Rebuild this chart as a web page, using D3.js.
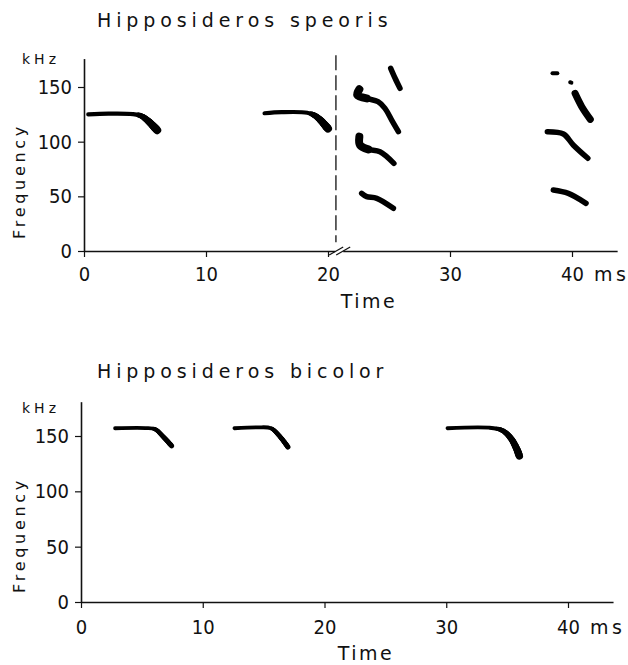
<!DOCTYPE html>
<html>
<head>
<meta charset="utf-8">
<script src="https://cdn.jsdelivr.net/npm/d3@7"></script>
<style>
  body { margin: 0; background: #fff; }
  svg { display: block; }
  text { font-family: "DejaVu Sans", sans-serif; fill: #111; }
  .tick text { font-family: "Liberation Sans Narrow", "DejaVu Sans Condensed", "DejaVu Sans", sans-serif; font-stretch: condensed; }
</style>
</head>
<body>
<script>
var timeTicks = [0, 10, 20, 30, 40];
var freqTicks = [0, 50, 100, 150];

// H. speoris: CF-FM calls [ms, kHz]
var speorisCalls = [
  [[0.35, 125], [2, 125.6], [4, 125.2], [4.7, 123.5], [5.3, 118.5], [5.7, 114], [6.0, 110.5]],
  [[14.8, 126], [16.2, 127], [18.3, 126.5], [18.9, 124], [19.4, 119.5], [19.8, 114.5], [20.0, 112]]
];
// H. speoris: harmonic fragments after the break
var speorisHarm = [
  [[22.57, 147.9], [22.4, 142.7], [23.17, 139.6], [24.1, 136.6], [24.67, 130.5], [25.22, 119.8], [25.77, 109.1]],
  [[25.14, 167.1], [25.5, 158], [25.9, 148.8]],
  [[22.57, 104.6], [22.62, 97], [23.3, 93], [24.26, 90.8], [25.4, 80.2]],
  [[22.76, 52.7], [23.17, 49.7], [24.0, 48.2], [25.36, 39.0]],
  [[38.4, 162.5], [38.8, 162.5]],
  [[39.85, 154.3], [39.95, 154.0]],
  [[40.25, 144.2], [40.8, 132], [41.5, 120.4]],
  [[37.98, 109.1], [39.3, 107], [40.1, 97], [41.3, 84.8]],
  [[38.47, 55.8], [39.7, 52.7], [41.15, 43.6]]
];
var breakAt = 20.65;

// H. bicolor: CF-FM calls [ms, kHz]
var bicolorCalls = [
  [[2.8, 157], [5.3, 157.2], [6.1, 156], [6.7, 150], [7.45, 141]],
  [[12.6, 157], [14.5, 157.8], [15.6, 157], [16.3, 150], [17.0, 140]],
  [[30.1, 157], [33.5, 157.5], [34.6, 155], [35.3, 148], [35.8, 138], [36.0, 132]]
];

var W = 628, H = 665;
var svg = d3.select("body").append("svg").attr("width", W).attr("height", H);

function panel(opt) {
  var x = d3.scaleLinear().domain([0, 43.7]).range([opt.x0, opt.x0 + 43.7 * opt.pxMs]);
  var y = d3.scaleLinear().domain([0, opt.fTop]).range([opt.y0, opt.y0 - opt.fTop * opt.pxKHz]);
  var g = svg.append("g");

  var xa = g.append("g").attr("transform", "translate(0," + opt.y0 + ")")
    .call(d3.axisBottom(x).tickValues(timeTicks).tickSize(6).tickSizeOuter(0).tickPadding(opt.xPad)
      .tickFormat(d3.format("d")));
  var ya = g.append("g").attr("transform", "translate(" + opt.x0 + ",0)")
    .call(d3.axisLeft(y).tickValues(freqTicks).tickSize(6).tickSizeOuter(0).tickPadding(6));
  [xa, ya].forEach(function(a) {
    a.select(".domain").attr("stroke", "#111").attr("stroke-width", 1.6);
    a.selectAll(".tick line").attr("stroke", "#111").attr("stroke-width", 1.2);
    a.selectAll(".tick text").attr("font-size", 20).attr("fill", "#111");
  });

  g.append("text").attr("x", x(40) + 22).attr("y", opt.y0 + opt.xPad + 6 + 14)
    .attr("font-size", 19).attr("letter-spacing", 3.5).text("ms");
  g.append("text").attr("x", 97).attr("y", opt.titleY)
    .attr("font-size", 19).attr("letter-spacing", 4.9).text(opt.title);
  g.append("text").attr("x", 22).attr("y", opt.khzY)
    .attr("font-size", 14).attr("letter-spacing", 4).text("kHz");
  g.append("text").attr("transform", "translate(25," + opt.freqY + ") rotate(-90)")
    .attr("text-anchor", "middle").attr("font-size", 16).attr("letter-spacing", 3.7).text("Frequency");
  g.append("text").attr("x", opt.timeX).attr("y", opt.timeY).attr("text-anchor", "middle")
    .attr("font-size", 19).attr("letter-spacing", 2.5).text("Time");

  var line = d3.line().x(function(d) { return x(d[0]); }).y(function(d) { return y(d[1]); })
    .curve(d3.curveCatmullRom);

  // CF part thin, FM sweep tapering thicker towards its end
  opt.calls.forEach(function(c, i) {
    var p = g.append("path").attr("d", line(c)).attr("fill", "none").attr("stroke", "#000")
      .attr("stroke-width", opt.cfW).attr("stroke-linecap", "round");
    var f0 = c[0][1], fEnd = c[c.length - 1][1];
    var wEnd = opt.fmW[i];
    var node = p.node(), len = node.getTotalLength(), n = 60, prev = null;
    for (var s = 0; s <= n; s++) {
      var pt = node.getPointAtLength(len * s / n);
      if (prev) {
        var f = y.invert(pt.y);
        var r = Math.max(0, Math.min(1, (f0 - 0.5 - f) / (f0 - 0.5 - fEnd)));
        if (r > 0) {
          g.append("line").attr("x1", prev.x).attr("y1", prev.y).attr("x2", pt.x).attr("y2", pt.y)
            .attr("stroke", "#000").attr("stroke-linecap", "round")
            .attr("stroke-width", opt.cfW + (wEnd - opt.cfW) * Math.sqrt(r));
        }
      }
      prev = pt;
    }
  });
  return { x: x, y: y, g: g, line: line };
}

var upper = panel({
  x0: 84, y0: 251, pxMs: 12.2, pxKHz: 1.0933, fTop: 176, xPad: 10,
  title: "Hipposideros speoris", titleY: 27, khzY: 64, freqY: 181,
  timeX: 369, timeY: 308, calls: speorisCalls, cfW: 4.2, fmW: [8, 8]
});

speorisHarm.forEach(function(c, i) {
  upper.g.append("path").attr("d", upper.line(c)).attr("fill", "none").attr("stroke", "#000")
    .attr("stroke-width", c.length === 2 ? 4 : 5.5).attr("stroke-linecap", "round");
});
// blobs at hooks of the lower harmonics
[speorisHarm[0], speorisHarm[2]].forEach(function(c) {
  upper.g.append("path").attr("d", upper.line(c.slice(0, 3))).attr("fill", "none").attr("stroke", "#000")
    .attr("stroke-width", 8).attr("stroke-linecap", "round");
});
upper.g.append("path").attr("d", upper.line(speorisHarm[6])).attr("fill", "none").attr("stroke", "#000")
  .attr("stroke-width", 7).attr("stroke-linecap", "round");

// dashed separator and axis break
upper.g.append("line")
  .attr("x1", upper.x(breakAt)).attr("x2", upper.x(breakAt))
  .attr("y1", upper.y(179)).attr("y2", upper.y(8))
  .attr("stroke", "#111").attr("stroke-width", 1.3).attr("stroke-dasharray", "15,5");
var bx = upper.x(breakAt + 0.35), by = upper.y(0);
upper.g.append("rect").attr("x", bx - 5).attr("y", by - 3).attr("width", 8).attr("height", 6).attr("fill", "#fff");
[-4, 3].forEach(function(o) {
  upper.g.append("line").attr("x1", bx + o - 7).attr("y1", by + 4).attr("x2", bx + o + 7).attr("y2", by - 4)
    .attr("stroke", "#111").attr("stroke-width", 1.3);
});

panel({
  x0: 81, y0: 602, pxMs: 12.175, pxKHz: 1.1067, fTop: 181, xPad: 12,
  title: "Hipposideros bicolor", titleY: 378, khzY: 413, freqY: 535,
  timeX: 366, timeY: 660, calls: bicolorCalls, cfW: 3.8, fmW: [5, 5, 7.5]
});
</script>
</body>
</html>
